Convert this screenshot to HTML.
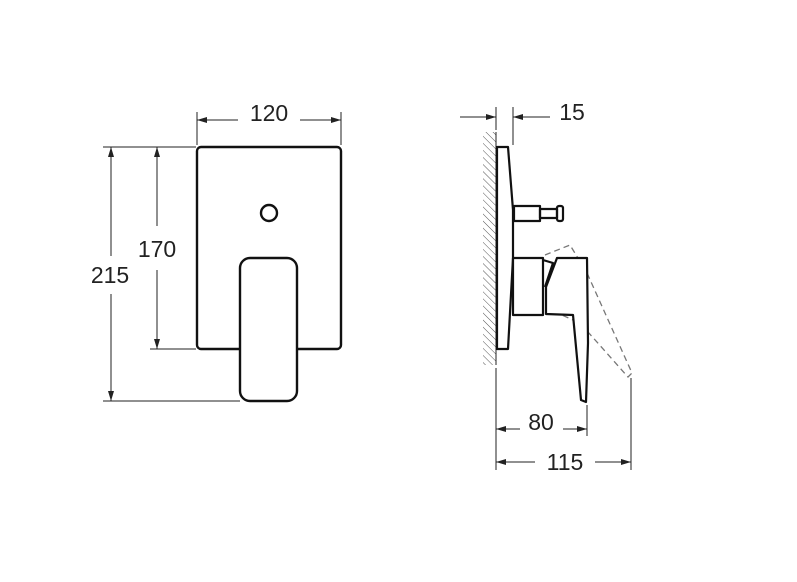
<!DOCTYPE html><html><head><style>body{margin:0;background:#fff}svg{display:block}text{font-family:"Liberation Sans",sans-serif;font-size:23px;fill:#222}</style></head><body>
<svg width="797" height="582" viewBox="0 0 797 582">
<defs>
<marker id="a" viewBox="0 0 10 6" refX="10" refY="3" markerWidth="11" markerHeight="6" orient="auto-start-reverse" markerUnits="userSpaceOnUse"><path d="M0,0L10,3L0,6z" fill="#222"/></marker>
<pattern id="h" width="5" height="5" patternUnits="userSpaceOnUse" patternTransform="rotate(-45)"><line x1="0" y1="0" x2="0" y2="5" stroke="#555" stroke-width="1"/></pattern>
</defs>
<g stroke="#222" fill="none" stroke-width="1">
<line x1="197" y1="112" x2="197" y2="145"/><line x1="341" y1="112" x2="341" y2="145"/>
<line x1="197" y1="120" x2="238" y2="120" marker-start="url(#a)"/><line x1="300" y1="120" x2="341" y2="120" marker-end="url(#a)"/>
<line x1="103" y1="147" x2="196" y2="147"/><line x1="103" y1="401" x2="240" y2="401"/><line x1="150" y1="349" x2="196" y2="349"/>
<line x1="111" y1="147" x2="111" y2="256" marker-start="url(#a)"/><line x1="111" y1="294" x2="111" y2="401" marker-end="url(#a)"/>
<line x1="157" y1="147" x2="157" y2="226" marker-start="url(#a)"/><line x1="157" y1="270" x2="157" y2="349" marker-end="url(#a)"/>
</g>
<g stroke="#111" fill="none" stroke-width="2.4">
<rect x="197" y="147" width="144" height="202" rx="4"/>
<circle cx="269" cy="213" r="8"/>
<rect x="240" y="258" width="57" height="143" rx="10" fill="#fff"/>
</g>
<text x="269" y="121" text-anchor="middle">120</text>
<text x="110" y="283" text-anchor="middle">215</text>
<text x="157" y="257" text-anchor="middle">170</text>
<rect x="483" y="132" width="13" height="233" fill="url(#h)"/>
<g stroke="#222" fill="none" stroke-width="1">
<line x1="496" y1="107" x2="496" y2="130"/><line x1="513" y1="107" x2="513" y2="145"/>
<line x1="460" y1="117" x2="496" y2="117" marker-end="url(#a)"/><line x1="550" y1="117" x2="513" y2="117" marker-end="url(#a)"/>
<line x1="496" y1="368" x2="496" y2="470"/><line x1="587" y1="405" x2="587" y2="436"/><line x1="631" y1="378" x2="631" y2="470"/>
<line x1="496" y1="429" x2="520" y2="429" marker-start="url(#a)"/><line x1="563" y1="429" x2="587" y2="429" marker-end="url(#a)"/>
<line x1="496" y1="462" x2="535" y2="462" marker-start="url(#a)"/><line x1="595" y1="462" x2="631" y2="462" marker-end="url(#a)"/>
<line x1="496" y1="132" x2="496" y2="365"/>
</g>
<path d="M545,255L570,245L587,273L632,373L628,377L580,323L555,312" stroke="#777" stroke-width="1.3" fill="none" stroke-dasharray="6,4"/>
<g stroke="#111" fill="none" stroke-width="2.2" stroke-linejoin="round">
<path d="M497,147L508,147L513,210L513,258L508,349L497,349Z"/>
<rect x="514" y="206" width="26" height="15"/>
<rect x="540" y="209" width="17" height="9"/>
<rect x="557" y="206" width="6" height="15" rx="2"/>
<rect x="513" y="258" width="30" height="57"/>
<path d="M546,314L573,315L581,400L586,402L588,343L587,258L557,258L546,287Z" fill="#fff"/>
<path d="M543,260L553,263L545,287"/>
</g>
<text x="572" y="120" text-anchor="middle">15</text>
<text x="541" y="430" text-anchor="middle">80</text>
<text x="565" y="470" text-anchor="middle">115</text>
</svg></body></html>
